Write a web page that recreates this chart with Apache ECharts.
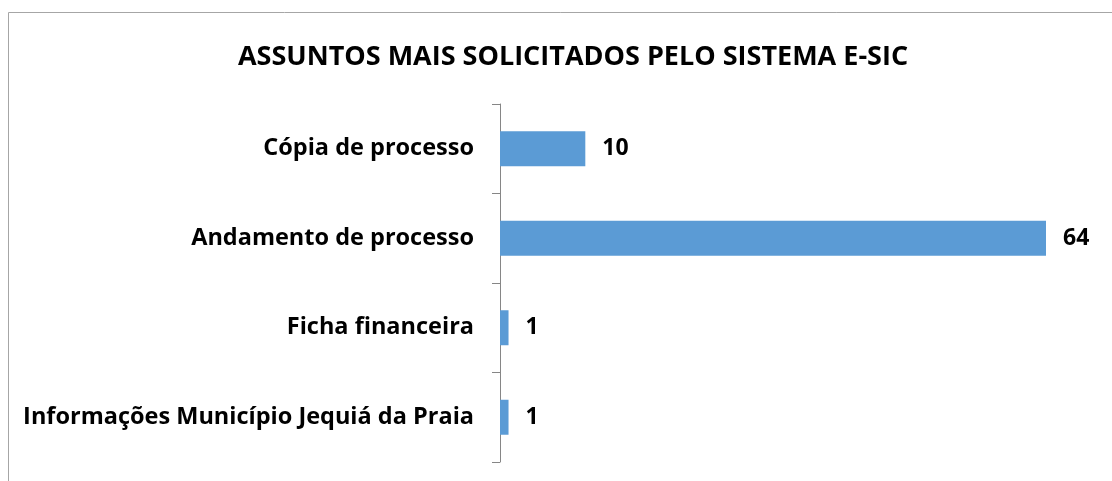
<!DOCTYPE html>
<html>
<head>
<meta charset="utf-8">
<script src="https://cdn.jsdelivr.net/npm/echarts@6/dist/echarts.min.js"></script>
<style>
  html, body { margin: 0; padding: 0; background: #fff; }
  #chart { width: 1112px; height: 481px; }
</style>
</head>
<body>
<div id="chart"></div>
<script>
// dados do gráfico
const titulo = 'ASSUNTOS MAIS SOLICITADOS PELO SISTEMA E-SIC'
const assuntos = ['Cópia de processo', 'Andamento de processo', 'Ficha financeira', 'Informações Município Jequiá da Praia']
const quantidades = [10, 64, 1, 1]

const chart = echarts.init(document.getElementById('chart'))

const fonte = '"Open Sans", sans-serif'

chart.setOption({
  animation: false,
  backgroundColor: '#fff',
  title: {
    text: titulo,
    left: 568,
    top: 39,
    textAlign: 'center',
    textStyle: { fontFamily: fonte, fontSize: 27, fontWeight: 'bold', color: '#000' }
  },
  graphic: [
    {
      type: 'rect',
      shape: { x: 8.5, y: 12.5, width: 1200, height: 600 },
      style: { fill: 'none', stroke: '#a6a6a6', lineWidth: 1 },
      silent: true
    }
  ],
  grid: { left: 500, right: 66, top: 104, bottom: 19 },
  xAxis: {
    type: 'value',
    min: 0,
    max: 64,
    show: false
  },
  yAxis: {
    type: 'category',
    inverse: true,
    data: assuntos,
    axisLine: { show: true, lineStyle: { color: '#868686', width: 1 } },
    axisTick: { show: true, length: 8, lineStyle: { color: '#868686' } },
    axisLabel: {
      margin: 26,
      fontFamily: fonte,
      fontSize: 23.5,
      fontWeight: 'bold',
      color: '#000',
      padding: [3, 0, 0, 0]
    }
  },
  series: [
    {
      type: 'bar',
      data: quantidades,
      barWidth: 35,
      itemStyle: { color: '#5b9bd5' },
      label: {
        show: true,
        position: 'right',
        distance: 17,
        fontFamily: fonte,
        fontSize: 23,
        fontWeight: 'bold',
        color: '#000',
        padding: [4, 0, 0, 0]
      }
    }
  ]
})
</script>
</body>
</html>
